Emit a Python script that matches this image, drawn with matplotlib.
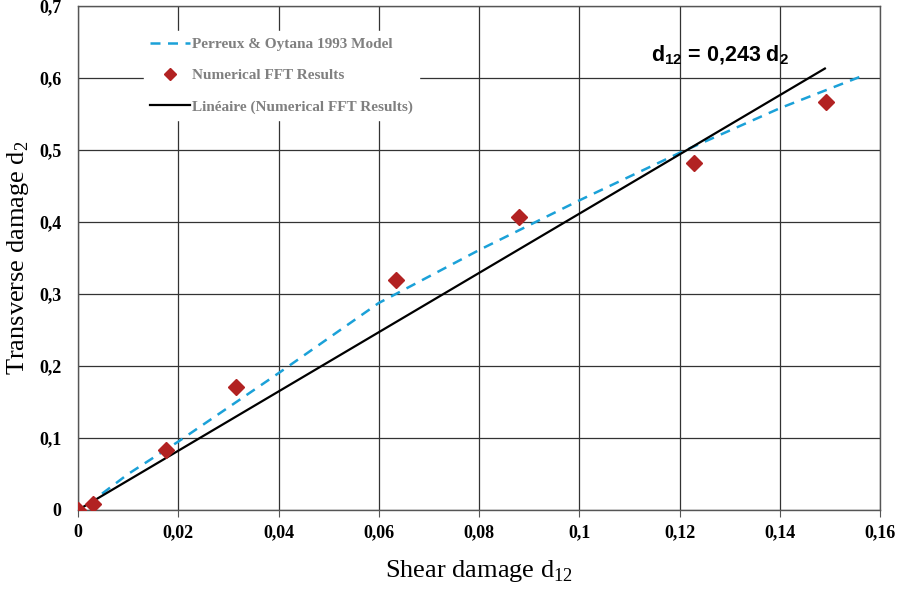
import matplotlib.pyplot as plt

plt.rcParams["mathtext.fontset"] = "custom"
plt.rcParams["mathtext.rm"] = "Liberation Serif"
plt.rcParams["mathtext.sf"] = "Liberation Sans:bold"

# Numerical FFT results
fft_d12 = [0.0, 0.003, 0.0175, 0.0315, 0.0634, 0.088, 0.1229, 0.1492]
fft_d2 = [0.0, 0.0085, 0.084, 0.171, 0.319, 0.407, 0.482, 0.567]

# Perreux & Oytana 1993 model
model_d12 = [0.002, 0.01, 0.02, 0.04, 0.06, 0.08, 0.10, 0.12, 0.14, 0.1565]
model_d2 = [0.008, 0.05, 0.095, 0.19, 0.2875, 0.361, 0.43, 0.496, 0.558, 0.603]

# linear trend: d12 = 0.243 d2
slope = 0.243
lin_d12 = [0.0, 0.149]
lin_d2 = [x / slope for x in lin_d12]

xticks = [0, 0.02, 0.04, 0.06, 0.08, 0.10, 0.12, 0.14, 0.16]
xlabels = ["0", "0,02", "0,04", "0,06", "0,08", "0,1", "0,12", "0,14", "0,16"]
yticks = [0, 0.1, 0.2, 0.3, 0.4, 0.5, 0.6, 0.7]
ylabels = ["0", "0,1", "0,2", "0,3", "0,4", "0,5", "0,6", "0,7"]

fig = plt.figure(figsize=(9.01, 5.90), dpi=100)
ax = fig.add_axes([0.0866, 0.1356, 0.8901, 0.8542])

ax.plot(model_d12, model_d2, color="#1ba1d8", linestyle=(0, (4, 3)), linewidth=1.8,
        label="Perreux & Oytana 1993 Model", zorder=3)
ax.plot(fft_d12, fft_d2, linestyle="none", marker="D", markersize=8.5, color="#b22222",
        label="Numerical FFT Results", zorder=4)
ax.plot(lin_d12, lin_d2, color="black", linewidth=1.6,
        label="Linéaire (Numerical FFT Results)", zorder=3)

ax.set_xlim(0, 0.16)
ax.set_ylim(0, 0.7)
ax.set_xticks(xticks)
ax.set_xticklabels(xlabels, fontfamily="Liberation Serif", fontweight="bold", fontsize=13)
ax.set_yticks(yticks)
ax.set_yticklabels(ylabels, fontfamily="Liberation Serif", fontweight="bold", fontsize=13)
ax.tick_params(axis="x", direction="out", length=5, color="#555555", pad=5)
ax.tick_params(axis="y", length=0, pad=12)

ax.grid(True, color="#333333", linewidth=0.9)
for s in ax.spines.values():
    s.set_color("#555555")
    s.set_linewidth(1.0)

ax.set_xlabel(r"Shear damage d$_{\mathrm{12}}$", fontfamily="Liberation Serif", fontsize=19, labelpad=12)
ax.set_ylabel(r"Transverse damage d$_{\mathrm{2}}$", fontfamily="Liberation Serif", fontsize=19, labelpad=6)

ax.text(0.1143, 0.631, r"d$_{\mathsf{12}}$ = 0,243 d$_{\mathsf{2}}$", fontfamily="Liberation Sans",
        fontweight="bold", fontsize=15.5, ha="left", va="center")

leg = ax.legend(loc="upper left", bbox_to_anchor=(0.073, 0.965), frameon=True, framealpha=1,
                edgecolor="white", handlelength=2.6, handletextpad=0.1, labelspacing=1.15,
                markerscale=0.7,
                prop={"family": "Liberation Serif", "weight": "bold", "size": 11})
for t in leg.get_texts():
    t.set_color("#808080")

fig.savefig("out.png", dpi=100)
